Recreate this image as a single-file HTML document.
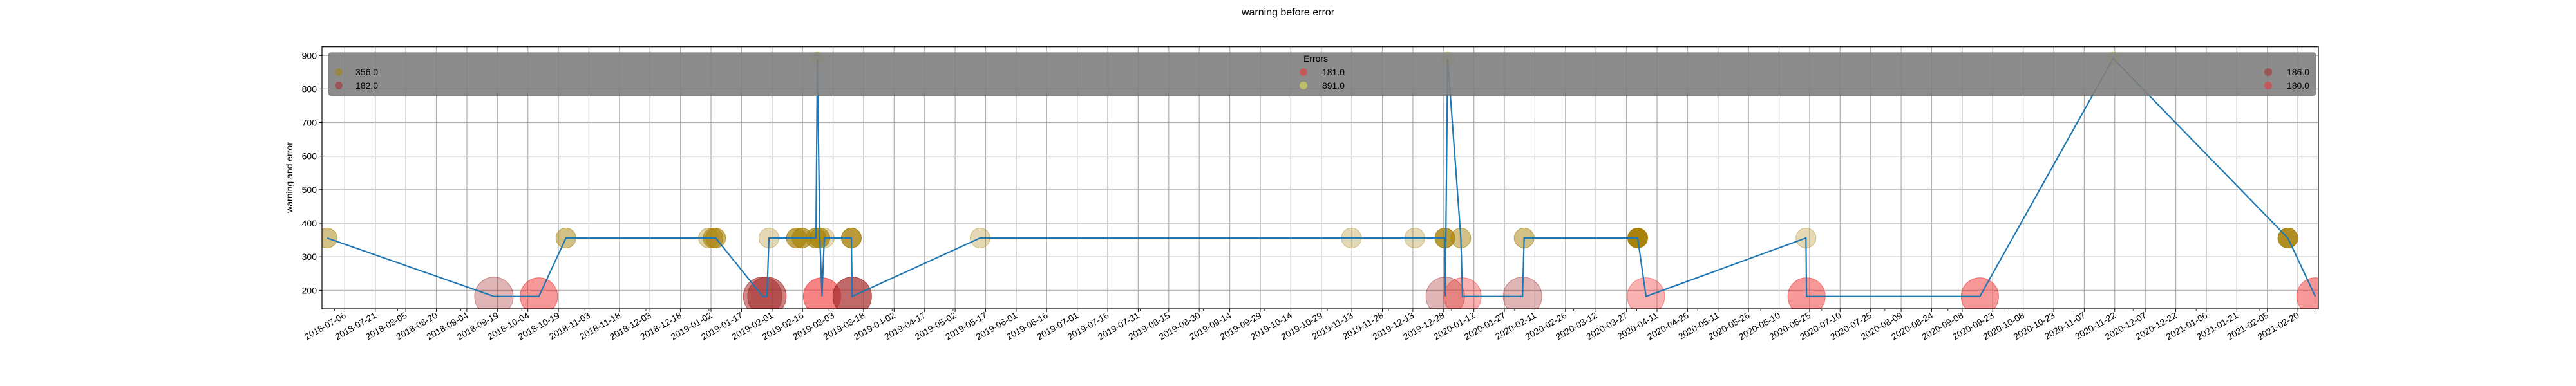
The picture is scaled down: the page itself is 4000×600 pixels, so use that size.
<!DOCTYPE html>
<html><head><meta charset="utf-8"><style>
html,body{margin:0;padding:0;background:#fff;}
svg{display:block;font-family:"Liberation Sans","DejaVu Sans",sans-serif;}
</style></head><body>
<svg id="chart" width="4000" height="600" viewBox="0 0 4000 600" xmlns="http://www.w3.org/2000/svg">
<text x="2000" y="24" font-size="16" text-anchor="middle">warning before error</text>
<text transform="translate(454,276) rotate(-90)" font-size="14" text-anchor="middle">warning and error</text>
<defs><clipPath id="plotclip"><rect x="500" y="72.7" width="3100" height="407.3"/></clipPath></defs>
<g id="grid"></g>
<g id="marks" clip-path="url(#plotclip)"></g>
<g id="axes"></g>
<g id="legend"></g>
</svg>
<script>
const pointDates = ["2018-06-27T07:00","2018-09-17T07:00","2018-10-09T10:00","2018-10-22T17:00","2018-12-31T19:00","2019-01-03T00:00","2019-01-04T07:00","2019-01-27T10:00","2019-01-29T12:00","2019-01-30T12:00","2019-02-13T00:00","2019-02-15T17:00","2019-02-22T14:00","2019-02-23T07:00","2019-02-24T12:00","2019-02-25T14:00","2019-02-26T17:00","2019-03-12T00:00","2019-03-12T10:00","2019-05-14T07:00","2019-11-12T19:00","2019-12-13T22:00","2019-12-28T17:00","2019-12-28T22:00","2019-12-30T02:00","2020-01-05T14:00","2020-01-06T10:00","2020-02-04T22:00","2020-02-05T17:00","2020-04-01T12:00","2020-04-05T14:00","2020-06-23T05:00","2020-06-23T12:00","2020-09-16T17:00","2020-11-21T05:00","2021-02-15T02:00","2021-02-28T14:00"];
const pointValues = [356,182,182,356,356,356,356,182,182,356,356,356,356,891,356,182,356,356,182,356,356,356,356,182,891,356,182,182,356,356,182,356,182,182,891,356,182];
const pointKinds = ["w","b","r","w","w","w","w","b","b","w","w","w","w","y","w","r","w","w","b","w","w","w","w","b","y","w","r","b","w","w","r","w","r","r","y","w","r"];
const pointAlphas = [0.5,0.35,0.5,0.5,0.35,0.6,0.6,0.55,0.6,0.3,0.7,0.7,0.7,0.4,0.7,0.6,0.3,0.8,0.7,0.3,0.3,0.3,0.8,0.35,0.4,0.5,0.38,0.35,0.5,1.0,0.38,0.3,0.5,0.5,0.4,0.9,0.5];
const yTicks = [200,300,400,500,600,700,800,900];
const legendLeftLabels = ["356.0","182.0"];
const legendMidLabels = ["181.0","891.0"];
const legendRightLabels = ["186.0","180.0"];

const NS="http://www.w3.org/2000/svg";
const X0=500,X1=3600,Y0=480,Y1=72.7;
const DAY=86400000;
const tMin=Date.UTC(2018,6,6)-11.2*DAY, tMax=Date.UTC(2018,6,6)+970.1*DAY;
const vMin=145, vMax=926;
function parseT(s){const [d,t]=s.split("T");const [y,m,dd]=d.split("-").map(Number);const [h,mi]=(t||"00:00").split(":").map(Number);return Date.UTC(y,m-1,dd,h,mi);}
function xs(t){return X0+(t-tMin)/(tMax-tMin)*(X1-X0);}
function ys(v){return Y0-(v-vMin)/(vMax-vMin)*(Y0-Y1);}
function mk(tag,attrs,parent){const e=document.createElementNS(NS,tag);for(const k in attrs)e.setAttribute(k,attrs[k]);parent.appendChild(e);return e;}
const grid=document.getElementById("grid"),marks=document.getElementById("marks"),axes=document.getElementById("axes"),legend=document.getElementById("legend");

// y grid + ticks
yTicks.forEach(v=>{
  const y=ys(v);
  const gl=mk("line",{x1:X0,x2:X1,y1:y,y2:y,stroke:"#b0b0b0","stroke-width":1.2},grid);
  
  
  const tk=mk("line",{x1:X0-5,x2:X0,y1:y,y2:y,stroke:"#000","stroke-width":1},axes);
  
  
  const tx=mk("text",{x:X0-8,y:y+5,"font-size":14,"text-anchor":"end"},axes);
  tx.textContent=String(v);
  
  
});
// x major ticks every 15 days
for(let t=Date.UTC(2018,6,6);t<=tMax;t+=15*DAY){
  const x=xs(t);
  const gl=mk("line",{x1:x,x2:x,y1:Y1,y2:Y0,stroke:"#b0b0b0","stroke-width":1.2},grid);
  
  
  const tk=mk("line",{x1:x,x2:x,y1:Y0,y2:Y0+5,stroke:"#000","stroke-width":1},axes);
  
  
  const d=new Date(t);
  const lab=d.getUTCFullYear()+"-"+String(d.getUTCMonth()+1).padStart(2,"0")+"-"+String(d.getUTCDate()).padStart(2,"0");
  const tx=mk("text",{transform:`translate(${x+3},${Y0+13}) rotate(-30)`,"font-size":14,"text-anchor":"end"},axes);
  tx.textContent=lab;
  
  
}
// minor ticks at month starts
for(let y=2018,m=6;;){const t=Date.UTC(y,m,1);if(t>tMax)break;if(t>=tMin){const x=xs(t);
  const tk=mk("line",{x1:x,x2:x,y1:Y0,y2:Y0+3,stroke:"#000","stroke-width":0.8},axes);
  
  }
  m++;if(m>11){m=0;y++;}}
// frame
const fr=mk("rect",{x:X0,y:Y1,width:X1-X0,height:Y0-Y1,fill:"none",stroke:"#000","stroke-width":1.2},axes);



// scatter
const kindColor={w:"#a8820a",b:"#a52a2a",r:"#f03232",y:"#d4d42a"};
const kindR={w:15.5,b:30,r:29,y:10};
pointDates.forEach((d,i)=>{
  const k=pointKinds[i];
  const c=mk("circle",{cx:xs(parseT(d)),cy:ys(pointValues[i]),r:kindR[k],fill:kindColor[k],"fill-opacity":pointAlphas[i],stroke:kindColor[k],"stroke-opacity":Math.min(1,pointAlphas[i]+0.15),"stroke-width":1},marks);
  
  
});
// line
const pts=pointDates.map((d,i)=>xs(parseT(d)).toFixed(1)+","+ys(pointValues[i]).toFixed(1)).join(" ");
const pl=mk("polyline",{points:pts,fill:"none",stroke:"#1f77b4","stroke-width":2.2,"stroke-linejoin":"miter"},marks);



// legend
const lb=mk("rect",{x:510,y:81.7,width:3086,height:67,rx:4,fill:"#808080","fill-opacity":0.9,stroke:"#707070","stroke-opacity":0.6},legend);


const lt=mk("text",{x:2043,y:96,"font-size":14,"text-anchor":"middle"},legend);
lt.textContent="Errors";


function entry(mx,tx,y,col,label,anchor){
  const c=mk("circle",{cx:mx,cy:y,r:6,fill:col,"fill-opacity":0.55},legend);
  
  
  const t=mk("text",{x:tx,y:y+5,"font-size":14,"text-anchor":anchor},legend);
  t.textContent=label;
  
  
}
const rowsY=[112,133];
entry(526,552,rowsY[0],"#a8820a",legendLeftLabels[0],"start");
entry(526,552,rowsY[1],"#a52a2a",legendLeftLabels[1],"start");
entry(2024,2088,rowsY[0],"#f03232",legendMidLabels[0],"end");
entry(2024,2088,rowsY[1],"#e8e84a",legendMidLabels[1],"end");
entry(3522,3586,rowsY[0],"#a52a2a",legendRightLabels[0],"end");
entry(3522,3586,rowsY[1],"#f03232",legendRightLabels[1],"end");
</script>
</body></html>
